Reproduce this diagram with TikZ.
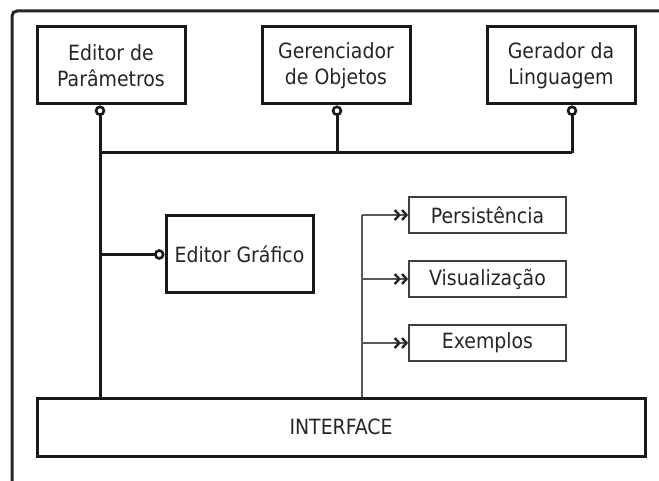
\documentclass[tikz,border=0pt]{standalone}
\usepackage{fontspec}
\setmainfont{DejaVu Sans Condensed}
\usetikzlibrary{arrows.meta}
\tikzset{
  bigbox/.style={draw=black!90, line width=3pt, minimum width=148pt, minimum height=77pt, align=center, inner sep=0pt, font=\fontsize{21}{26.5}\selectfont, text=black!85},
  smallbox/.style={draw=black!75, line width=1.7pt, minimum width=157pt, minimum height=36pt, inner sep=0pt, font=\fontsize{21}{26.5}\selectfont, text=black!85},
  wire/.style={line width=3pt, draw=black!90},
  thinwire/.style={line width=1.6pt, draw=black!65},
  lolli/.style={wire, -{Circle[open, length=10.5pt, line width=2.6pt]}},
  chev/.style={thinwire, -{Straight Barb[length=4.5pt, width=10pt, line width=2.4pt, black!85] Straight Barb[length=4.5pt, width=10pt, line width=2.4pt, black!85]}}
}
\begin{document}
\begin{tikzpicture}[x=1pt, y=-1pt]
\useasboundingbox (0,0) rectangle (659,481);
\clip (0,0) rectangle (659,481);
\fill[white] (0,0) rectangle (659,481);
% outer frame
\draw[line width=3pt, black!85, rounded corners=5pt] (12,500) -- (12,11) -- (680,11);
% main boxes
\node[bigbox] (p) at (111,65.5) {Editor de\\Parâmetros};
\node[bigbox] (o) at (336,65.5) {Gerenciador\\de Objetos};
\node[bigbox] (l) at (561,65.5) {Gerador da\\Linguagem};
\node[bigbox, minimum width=147pt] (g) at (239.5,254.5) {Editor Gráfico};
\node[bigbox, minimum width=608pt, minimum height=58pt] (i) at (341,427) {INTERFACE};
\node[smallbox] (ps) at (487.5,215) {Persistência};
\node[smallbox] (vs) at (487.5,279) {Visualização};
\node[smallbox] (ex) at (487.5,343) {Exemplos};
% bus
\coordinate (b1) at (100,153);
\coordinate (b2) at (337,153);
\coordinate (b3) at (572,153);
\draw[wire] (b1) -- (b3);
\draw[lolli] (b1) -- (b1 |- p.south);
\draw[lolli] (b2) -- (b2 |- o.south);
\draw[lolli] (b3) -- (b3 |- l.south);
\draw[wire] (b1) -- (b1 |- i.north);
\draw[lolli] (b1 |- g.west) -- (g.west);
% interface branch
\coordinate (r) at (362,398);
\draw[thinwire] (r |- i.north) -- (r |- ps.west);
\draw[chev] (r |- ps.west) -- (ps.west);
\draw[chev] (r |- vs.west) -- (vs.west);
\draw[chev] (r |- ex.west) -- (ex.west);
\end{tikzpicture}
\end{document}
